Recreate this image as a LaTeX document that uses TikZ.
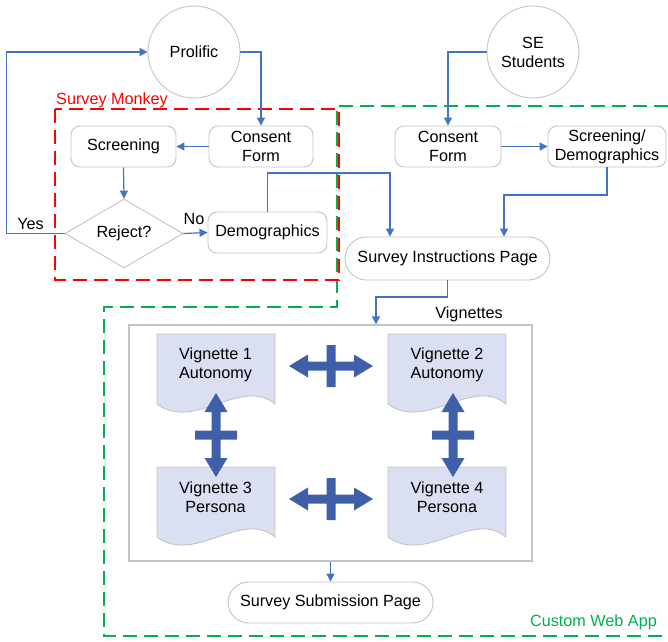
\documentclass[tikz,border=0pt]{standalone}
\usepackage{fontspec}
\setmainfont{Liberation Sans}
\usetikzlibrary{shapes.geometric,arrows.meta}
\definecolor{cblue}{HTML}{4472C4}
\definecolor{bigblue}{HTML}{3F60A8}
\definecolor{docfill}{HTML}{DAE0F2}
\definecolor{gborder}{HTML}{C4C4C4}
\definecolor{mgreen}{HTML}{00B050}
\definecolor{mred}{HTML}{FF0000}
\tikzset{
  box/.style={draw=gborder, line width=0.9pt, rounded corners=9pt, fill=white, inner sep=0pt, align=center, minimum height=41pt},
  pill/.style={box, rounded corners=20.5pt},
  circ/.style={circle, draw=gborder, line width=0.9pt, fill=white, minimum size=92pt, inner sep=0pt, align=center},
  dia/.style={diamond, draw=gborder, line width=0.9pt, fill=white, aspect=1.7, minimum width=118pt, minimum height=69pt, inner sep=0pt},
  conn/.style={draw=cblue, line width=1.2pt, -{Triangle[length=8pt,width=8pt]}},
  lbl/.style={inner sep=0pt},
  region/.style={line width=2pt, dash pattern=on 14pt off 7pt},
  crossarrow/.pic={\fill[bigblue] (-42,0) -- (-23,-11.5) -- (-23,-4.5) -- (-4.5,-4.5) -- (-4.5,-21) -- (4.5,-21) -- (4.5,-4.5) -- (23,-4.5) -- (23,-11.5) -- (42,0) -- (23,11.5) -- (23,4.5) -- (4.5,4.5) -- (4.5,21) -- (-4.5,21) -- (-4.5,4.5) -- (-23,4.5) -- (-23,11.5) -- cycle;},
  vdoc/.pic={\filldraw[fill=docfill, draw=gborder, line width=0.9pt] (0,0) -- (118,0) -- (118,70) .. controls (84,42) and (38,98) .. (0,70) -- cycle;}
}
\begin{document}
\begin{tikzpicture}[x=1pt, y=-1pt, font=\fontsize{16.2}{19}\selectfont]
\useasboundingbox (0,0) rectangle (668,641);
% regions
\draw[region, draw=mgreen] (668,106) -- (337,106) -- (337,307) -- (104,307) -- (104,636) -- (668,636);
\draw[region, draw=mred] (55,109) rectangle (339,280);
\node[lbl, anchor=west, text=mred] (smlabel) at (56,100) {Survey Monkey};
\node[lbl, anchor=east, text=mgreen] (cwlabel) at (657,622) {Custom Web App};
% top nodes
\node[circ] (prolific) at (194,52) {Prolific};
\node[circ] (se) at (533,52) {SE\\Students};
\node[box, minimum width=104pt] (consentL) at (261,146.5) {Consent\\Form};
\node[box, minimum width=105pt] (screen) at (123.5,146.5) {Screening};
\node[dia] (reject) at (124,233.5) {Reject?};
\node[box, minimum width=119pt] (demo) at (267.5,232.5) {Demographics};
\node[box, minimum width=106pt] (consentR) at (448,146.5) {Consent\\Form};
\node[box, minimum width=118pt] (screenDemo) at (607,146.5) {Screening/\\Demographics};
\node[pill, minimum width=205pt, minimum height=43pt, rounded corners=21.5pt] (instr) at (447.5,258.5) {Survey Instructions Page};
% vignettes
\node[draw=gborder, line width=1.3pt, fill=white, minimum width=403pt, minimum height=236pt, inner sep=0pt] (vbox) at (330.5,443) {};
\node[lbl] (vlabel) at (469,314) {Vignettes};
\pic at (157,334) {vdoc};
\pic at (388,334) {vdoc};
\pic at (157,467) {vdoc};
\pic at (388,467) {vdoc};
\node[lbl, align=center] (v1) at (215.5,364.5) {Vignette 1\\Autonomy};
\node[lbl, align=center] (v2) at (447,364.5) {Vignette 2\\Autonomy};
\node[lbl, align=center] (v3) at (215.5,497) {Vignette 3\\Persona};
\node[lbl, align=center] (v4) at (447,497) {Vignette 4\\Persona};
\pic at (331,366) {crossarrow};
\pic at (331,499) {crossarrow};
\pic[rotate=90] at (216,435) {crossarrow};
\pic[rotate=90] at (453,435) {crossarrow};
\node[pill, minimum width=205pt] (submit) at (330.5,602.5) {Survey Submission Page};
% connectors
\draw[conn] (reject.west) -- ++(-58,0) |- (prolific.west);
\draw[conn] (prolific.east) -| (consentL.north);
\draw[conn] (consentL.west) -- (screen.east);
\draw[conn] (screen.south) -- (reject.north);
\draw[conn] (reject.east) -- (demo.west);
\node[lbl] (yes) at (30.5,224) {Yes};
\node[lbl] (no) at (194,219) {No};
\draw[conn] (demo.north) -- ++(0,-38.5) -| ([xshift=-57.5pt]instr.north);
\draw[conn] (se.west) -| (consentR.north);
\draw[conn] (consentR.east) -- (screenDemo.west);
\draw[conn] (screenDemo.south) -- ++(0,27.5) -| ([xshift=56.5pt]instr.north);
\draw[conn] (instr.south) -- ++(0,16.5) -| ([xshift=45.5pt]vbox.north);
\draw[conn] (vbox.south) -- (submit.north);
\end{tikzpicture}
\end{document}
